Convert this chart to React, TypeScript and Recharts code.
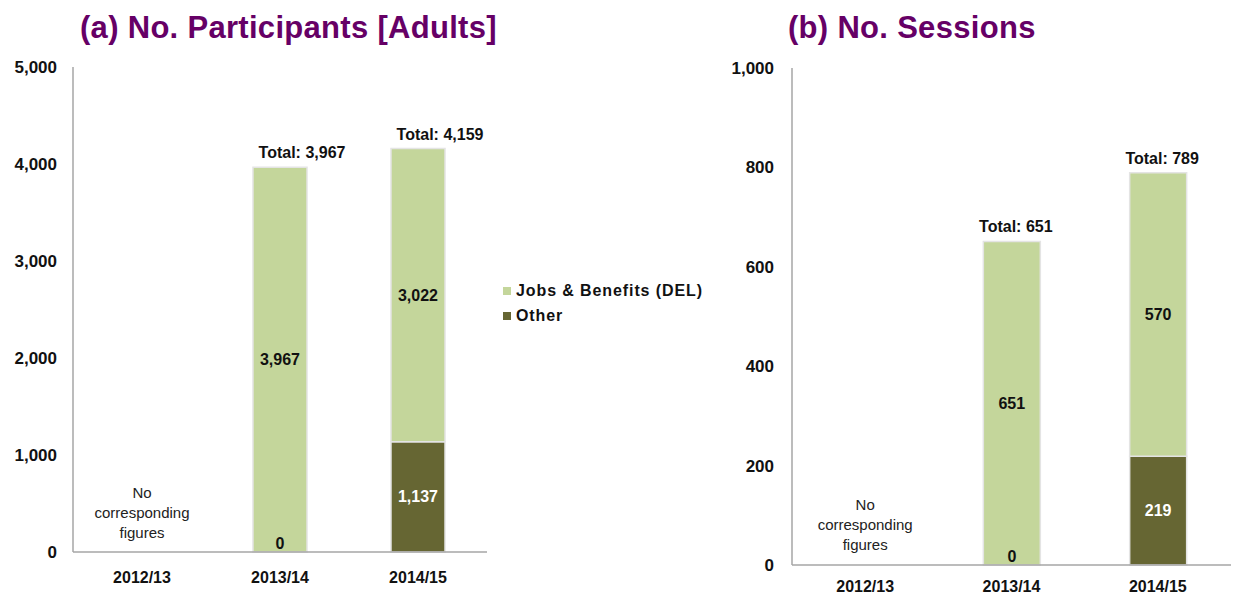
import React from "react";
import {
  BarChart,
  Bar,
  XAxis,
  YAxis,
  Legend,
  LabelList,
  ReferenceDot,
} from "recharts";

// values
const years = ["2012/13", "2013/14", "2014/15"];
const participantsJobs = [null, 3967, 3022];
const participantsOther = [null, 0, 1137];
const participantsTotal = [null, 3967, 4159];
const participantsTicks = [0, 1000, 2000, 3000, 4000, 5000];

const sessionsJobs = [null, 651, 570];
const sessionsOther = [null, 0, 219];
const sessionsTotal = [null, 651, 789];
const sessionsTicks = [0, 200, 400, 600, 800, 1000];

const noDataLines = ["No", "corresponding", "figures"];

const GREEN = "#c4d69b";
const OLIVE = "#666633";
const PURPLE = "#660066";
const AXIS = "#a6a6a6";
const FONT = "'Liberation Sans', Arial, sans-serif";

const buildRows = (jobs: any[], other: any[], total: any[]) =>
  years.map((year, i) => ({ year, jobs: jobs[i], other: other[i], total: total[i] }));

const participantsData = buildRows(participantsJobs, participantsOther, participantsTotal);
const sessionsData = buildRows(sessionsJobs, sessionsOther, sessionsTotal);

const fmt = (v: number) => v.toLocaleString("en-US");

// value in the middle of a segment
const CenterLabel = (color: string) => (props: any) => {
  const { x, y, width, height, value } = props;
  if (value === null || value === undefined || value === 0) return null;
  return (
    <text x={x + width / 2} y={y + height / 2} dy="0.35em" textAnchor="middle" fill={color} fontSize={16} fontWeight="bold">
      {fmt(value)}
    </text>
  );
};

// a zero "Other" has no bar of its own, so it is written at the foot of the green bar
const ZeroLabel = (props: any) => {
  const { x, y, width, height, value } = props;
  if (value !== 0) return null;
  return (
    <text x={x + width / 2} y={y + height - 9} dy="0.35em" textAnchor="middle" fill="#111" fontSize={16} fontWeight="bold">
      0
    </text>
  );
};

const TotalLabel = (shift: number) => (props: any) => {
  const { x, y, width, value } = props;
  if (value === null || value === undefined) return null;
  return (
    <text x={x + width / 2 + shift} y={y - 9} textAnchor="middle" fill="#111" fontSize={16} fontWeight="bold">
      {`Total: ${fmt(value)}`}
    </text>
  );
};

const NoDataLabel = (props: any) => {
  const { viewBox } = props;
  const cx = viewBox.x + viewBox.width / 2;
  const cy = viewBox.y + viewBox.height / 2;
  return (
    <text x={cx} y={cy - 20} textAnchor="middle" fill="#222" fontSize={15}>
      {noDataLines.map((line, i) => (
        <tspan key={line} x={cx} dy={i === 0 ? "0.35em" : 20}>
          {line}
        </tspan>
      ))}
    </text>
  );
};

const LegendBox = (props: any) => {
  const items = props.payload || [];
  return (
    <div style={{ fontFamily: FONT, fontSize: 16, fontWeight: "bold", color: "#111", letterSpacing: 0.9 }}>
      {items.map((it: any) => (
        <div key={it.value} style={{ display: "flex", alignItems: "center", height: 25 }}>
          <span style={{ width: 8, height: 8, background: it.color, marginRight: 5, display: "inline-block" }} />
          {it.value}
        </div>
      ))}
    </div>
  );
};

const Title = ({ text, left }: { text: string; left: number }) => (
  <div
    style={{
      position: "absolute",
      left,
      top: 10,
      fontFamily: FONT,
      fontSize: 31,
      fontWeight: "bold",
      color: PURPLE,
      whiteSpace: "nowrap",
      lineHeight: "36px",
      letterSpacing: 0.3,
    }}
  >
    {text}
  </div>
);

export default function App() {
  const yTick = { fontSize: 17, fontWeight: "bold", fill: "#111" } as any;
  const xTick = { fontSize: 16, fontWeight: "bold", fill: "#111" } as any;

  return (
    <div style={{ position: "absolute", left: 0, top: 0, width: 1233, height: 594, background: "#fff", fontFamily: FONT }}>
      <Title text="(a) No. Participants [Adults]" left={80} />
      <Title text="(b) No. Sessions" left={788} />

      <div style={{ position: "absolute", left: 0, top: 0 }}>
        <BarChart width={700} height={594} data={participantsData} margin={{ top: 67, right: 213, bottom: 4, left: 0 }}>
          <XAxis
            dataKey="year"
            tick={xTick}
            tickLine={false}
            tickMargin={14}
            axisLine={{ stroke: AXIS, strokeWidth: 1.5 }}
            height={38}
          />
          <YAxis
            domain={[0, 5000]}
            ticks={participantsTicks}
            tickFormatter={fmt}
            tick={yTick}
            tickLine={false}
            tickMargin={10}
            axisLine={{ stroke: AXIS, strokeWidth: 1.5 }}
            width={73}
          />
          <Legend
            layout="vertical"
            align="center"
            verticalAlign="middle"
            wrapperStyle={{ left: 503, top: 278, width: 210 }}
            content={<LegendBox />}
          />
          <ReferenceDot x="2012/13" y={400} r={0} fill="none" stroke="none" label={<NoDataLabel />} />
          <Bar dataKey="other" name="Other" stackId="a" fill={OLIVE} stroke="#e4e4e4" strokeWidth={1.5} barSize={54} isAnimationActive={false}>
            <LabelList dataKey="other" content={CenterLabel("#fff")} />
          </Bar>
          <Bar dataKey="jobs" name="Jobs & Benefits (DEL)" stackId="a" fill={GREEN} stroke="#e4e4e4" strokeWidth={1.5} barSize={54} isAnimationActive={false}>
            <LabelList dataKey="jobs" content={CenterLabel("#111")} />
            <LabelList dataKey="other" content={ZeroLabel} />
            <LabelList dataKey="total" content={TotalLabel(22)} />
          </Bar>
        </BarChart>
      </div>

      <div style={{ position: "absolute", left: 700, top: 0 }}>
        <BarChart width={533} height={594} data={sessionsData} margin={{ top: 68, right: 2, bottom: 2, left: 0 }}>
          <XAxis
            dataKey="year"
            tick={xTick}
            tickLine={false}
            tickMargin={10}
            axisLine={{ stroke: AXIS, strokeWidth: 1.5 }}
            height={27}
          />
          <YAxis
            domain={[0, 1000]}
            ticks={sessionsTicks}
            tickFormatter={fmt}
            tick={yTick}
            tickLine={false}
            tickMargin={12}
            axisLine={{ stroke: AXIS, strokeWidth: 1.5 }}
            width={92}
          />
          <ReferenceDot x="2012/13" y={80} r={0} fill="none" stroke="none" label={<NoDataLabel />} />
          <Bar dataKey="other" name="Other" stackId="a" fill={OLIVE} stroke="#e4e4e4" strokeWidth={1.5} barSize={57} isAnimationActive={false}>
            <LabelList dataKey="other" content={CenterLabel("#fff")} />
          </Bar>
          <Bar dataKey="jobs" name="Jobs & Benefits (DEL)" stackId="a" fill={GREEN} stroke="#e4e4e4" strokeWidth={1.5} barSize={57} isAnimationActive={false}>
            <LabelList dataKey="jobs" content={CenterLabel("#111")} />
            <LabelList dataKey="other" content={ZeroLabel} />
            <LabelList dataKey="total" content={TotalLabel(4)} />
          </Bar>
        </BarChart>
      </div>
    </div>
  );
}
